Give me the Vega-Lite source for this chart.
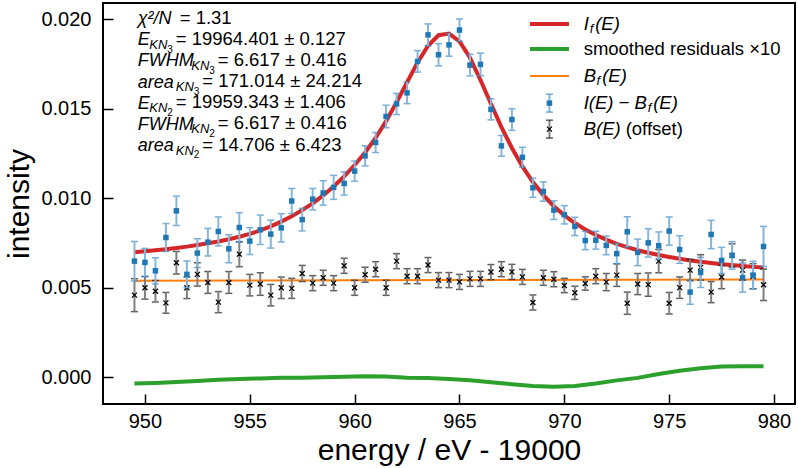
{
"$schema":"https://vega.github.io/schema/vega-lite/v6.json",
"width":692,"height":401,
"autosize":{"type":"none"},
"padding":{"left":103,"top":3,"right":3,"bottom":64},
"background":"white",
"config":{
 "font":"Liberation Sans",
 "view":{"stroke":"#000","strokeWidth":2},
 "axis":{"domain":false,"grid":false,"tickColor":"#000","tickWidth":1.5,"tickSize":-10,"labelFontSize":20,"labelColor":"#000","labelFont":"Liberation Sans","titleFont":"Liberation Sans","titleFontSize":30,"titleFontWeight":"normal","titleColor":"#000"},
 "axisX":{"labelPadding":17,"titlePadding":4},
 "axisY":{"labelPadding":22,"titlePadding":6},
 "text":{"align":"left","color":"#000"}
},
"datasets":{
"pts":[
{"E":949.5,"I":0.00648,"Ie":0.0011,"B":0.00458,"Be":0.00092,"fit":0.00698},
{"E":950.0,"I":0.00641,"Ie":0.00078,"B":0.00499,"Be":0.00063,"fit":0.00703},
{"E":950.5,"I":0.00594,"Ie":0.00073,"B":0.0048,"Be":0.0006,"fit":0.00709},
{"E":951.0,"I":0.0078,"Ie":0.00078,"B":0.00415,"Be":0.00058,"fit":0.00715},
{"E":951.5,"I":0.00929,"Ie":0.00082,"B":0.00639,"Be":0.00063,"fit":0.00722},
{"E":952.0,"I":0.00574,"Ie":0.00075,"B":0.00499,"Be":0.0006,"fit":0.00729},
{"E":952.5,"I":0.00693,"Ie":0.0008,"B":0.00574,"Be":0.00065,"fit":0.00738},
{"E":953.0,"I":0.00754,"Ie":0.00077,"B":0.00529,"Be":0.00061,"fit":0.00748},
{"E":953.5,"I":0.00814,"Ie":0.00081,"B":0.00419,"Be":0.00059,"fit":0.00758},
{"E":954.0,"I":0.00717,"Ie":0.00078,"B":0.00529,"Be":0.00061,"fit":0.0077},
{"E":954.5,"I":0.00836,"Ie":0.00083,"B":0.00687,"Be":0.0007,"fit":0.00784},
{"E":955.0,"I":0.0076,"Ie":0.00075,"B":0.00514,"Be":0.0006,"fit":0.008},
{"E":955.5,"I":0.00823,"Ie":0.00082,"B":0.0052,"Be":0.00063,"fit":0.0082},
{"E":956.0,"I":0.00799,"Ie":0.00078,"B":0.00458,"Be":0.0006,"fit":0.00842},
{"E":956.5,"I":0.00834,"Ie":0.00079,"B":0.00499,"Be":0.0006,"fit":0.00869},
{"E":957.0,"I":0.00984,"Ie":0.0007,"B":0.00496,"Be":0.00056,"fit":0.00899},
{"E":957.5,"I":0.0088,"Ie":0.00063,"B":0.00579,"Be":0.00045,"fit":0.00933},
{"E":958.0,"I":0.00994,"Ie":0.0006,"B":0.00525,"Be":0.00042,"fit":0.00971},
{"E":958.5,"I":0.01029,"Ie":0.00068,"B":0.00555,"Be":0.00042,"fit":0.01015},
{"E":959.0,"I":0.0106,"Ie":0.00067,"B":0.00525,"Be":0.00042,"fit":0.01065},
{"E":959.5,"I":0.01082,"Ie":0.00065,"B":0.00622,"Be":0.00042,"fit":0.01121},
{"E":960.0,"I":0.01151,"Ie":0.00056,"B":0.00499,"Be":0.00042,"fit":0.01185},
{"E":960.5,"I":0.01236,"Ie":0.00056,"B":0.00572,"Be":0.00042,"fit":0.01255},
{"E":961.0,"I":0.01311,"Ie":0.00056,"B":0.00603,"Be":0.00042,"fit":0.01336},
{"E":961.5,"I":0.01456,"Ie":0.00063,"B":0.00499,"Be":0.00042,"fit":0.0143},
{"E":962.0,"I":0.01526,"Ie":0.00059,"B":0.00648,"Be":0.00042,"fit":0.01536},
{"E":962.5,"I":0.01588,"Ie":0.0006,"B":0.00564,"Be":0.00042,"fit":0.01647},
{"E":963.0,"I":0.01764,"Ie":0.0006,"B":0.00564,"Be":0.00042,"fit":0.01757},
{"E":963.5,"I":0.01912,"Ie":0.00061,"B":0.00626,"Be":0.00042,"fit":0.01851},
{"E":964.0,"I":0.01801,"Ie":0.00062,"B":0.00542,"Be":0.00042,"fit":0.0191},
{"E":964.5,"I":0.01856,"Ie":0.00063,"B":0.00542,"Be":0.00042,"fit":0.01919},
{"E":965.0,"I":0.01939,"Ie":0.00062,"B":0.00532,"Be":0.00042,"fit":0.01876},
{"E":965.5,"I":0.01743,"Ie":0.0006,"B":0.00549,"Be":0.00042,"fit":0.01784},
{"E":966.0,"I":0.01747,"Ie":0.00063,"B":0.00549,"Be":0.00042,"fit":0.0166},
{"E":966.5,"I":0.01496,"Ie":0.00059,"B":0.00587,"Be":0.00042,"fit":0.01527},
{"E":967.0,"I":0.01292,"Ie":0.00058,"B":0.00603,"Be":0.00042,"fit":0.01397},
{"E":967.5,"I":0.01439,"Ie":0.0006,"B":0.00588,"Be":0.00042,"fit":0.0128},
{"E":968.0,"I":0.01228,"Ie":0.00056,"B":0.0056,"Be":0.00042,"fit":0.01177},
{"E":968.5,"I":0.01058,"Ie":0.00053,"B":0.00417,"Be":0.00042,"fit":0.0109},
{"E":969.0,"I":0.01037,"Ie":0.00054,"B":0.00555,"Be":0.00042,"fit":0.01017},
{"E":969.5,"I":0.00933,"Ie":0.00052,"B":0.00547,"Be":0.00042,"fit":0.00955},
{"E":970.0,"I":0.00907,"Ie":0.00051,"B":0.00512,"Be":0.0004,"fit":0.00904},
{"E":970.5,"I":0.00842,"Ie":0.00051,"B":0.00471,"Be":0.00037,"fit":0.00861},
{"E":971.0,"I":0.00763,"Ie":0.00051,"B":0.00523,"Be":0.00037,"fit":0.00825},
{"E":971.5,"I":0.00765,"Ie":0.0005,"B":0.00564,"Be":0.00042,"fit":0.00794},
{"E":972.0,"I":0.00736,"Ie":0.00052,"B":0.00531,"Be":0.00048,"fit":0.00768},
{"E":972.5,"I":0.0069,"Ie":0.00056,"B":0.0057,"Be":0.00063,"fit":0.00745},
{"E":973.0,"I":0.00812,"Ie":0.00084,"B":0.00413,"Be":0.00062,"fit":0.00726},
{"E":973.5,"I":0.00697,"Ie":0.00074,"B":0.0052,"Be":0.00059,"fit":0.00709},
{"E":974.0,"I":0.0075,"Ie":0.00079,"B":0.00517,"Be":0.00065,"fit":0.00695},
{"E":974.5,"I":0.00734,"Ie":0.00077,"B":0.00648,"Be":0.00065,"fit":0.00682},
{"E":975.0,"I":0.00816,"Ie":0.00079,"B":0.00413,"Be":0.0006,"fit":0.00671},
{"E":975.5,"I":0.00713,"Ie":0.00077,"B":0.005,"Be":0.0006,"fit":0.00661},
{"E":976.0,"I":0.00475,"Ie":0.00068,"B":0.00598,"Be":0.0006,"fit":0.00652},
{"E":976.5,"I":0.00585,"Ie":0.00084,"B":0.00613,"Be":0.00071,"fit":0.00645},
{"E":977.0,"I":0.00797,"Ie":0.00079,"B":0.00475,"Be":0.00059,"fit":0.00638},
{"E":977.5,"I":0.00652,"Ie":0.00073,"B":0.00559,"Be":0.00065,"fit":0.00631},
{"E":978.0,"I":0.0068,"Ie":0.00077,"B":0.0068,"Be":0.00065,"fit":0.00626},
{"E":978.5,"I":0.00556,"Ie":0.00081,"B":0.00598,"Be":0.00056,"fit":0.00621},
{"E":979.0,"I":0.0057,"Ie":0.00077,"B":0.00564,"Be":0.0007,"fit":0.00616},
{"E":979.5,"I":0.0073,"Ie":0.00112,"B":0.00516,"Be":0.00088,"fit":0.00612}
],
"res":[
{"E":949.5,"r":-0.00035},{"E":950.5,"r":-0.00032},{"E":951.5,"r":-0.00027},{"E":952.5,"r":-0.00021},
{"E":953.5,"r":-0.00014},{"E":954.5,"r":-0.0001},{"E":955.5,"r":-0.00007},{"E":956.5,"r":-0.00004},
{"E":957.5,"r":-0.00003},{"E":958.5,"r":0.0},{"E":959.5,"r":0.00002},{"E":960.5,"r":0.00005},
{"E":961.5,"r":0.00003},{"E":962.5,"r":-0.00004},{"E":963.5,"r":-0.00005},{"E":964.5,"r":-0.0001},
{"E":965.5,"r":-0.00018},{"E":966.5,"r":-0.00028},{"E":967.5,"r":-0.0004},{"E":968.5,"r":-0.0005},
{"E":969.5,"r":-0.00053},{"E":970.5,"r":-0.0005},{"E":971.5,"r":-0.00036},{"E":972.5,"r":-0.00018},
{"E":973.5,"r":-0.00004},{"E":974.5,"r":0.00018},{"E":975.5,"r":0.00036},{"E":976.5,"r":0.0005},
{"E":977.5,"r":0.0006},{"E":978.5,"r":0.00061},{"E":979.5,"r":0.00061}
],
"bg":[{"E":949.5,"Bf":0.00538},{"E":964.5,"Bf":0.00542},{"E":979.5,"Bf":0.00546}],
"one":[{}]
},
"layer":[
{"data":{"name":"bg"},"mark":{"type":"line","color":"#ff7f0e","strokeWidth":2},
 "encoding":{
  "x":{"field":"E","type":"quantitative","title":"energy / eV - 19000","scale":{"domain":[948,981],"nice":false,"zero":false},"axis":{"values":[950,955,960,965,970,975,980],"format":"d"}},
  "y":{"field":"Bf","type":"quantitative","title":"intensity","scale":{"domain":[-0.0015,0.0209],"nice":false,"zero":false},"axis":{"values":[0,0.005,0.01,0.015,0.02],"format":".3f"}}}},
{"data":{"name":"res"},"mark":{"type":"line","color":"#2ca02c","strokeWidth":4},
 "encoding":{"x":{"field":"E","type":"quantitative","title":"energy / eV - 19000"},"y":{"field":"r","type":"quantitative","title":"intensity"}}},
{"data":{"name":"pts"},"mark":{"type":"line","color":"#d62728","strokeWidth":4},
 "encoding":{"x":{"field":"E","type":"quantitative","title":"energy / eV - 19000"},"y":{"field":"fit","type":"quantitative","title":"intensity"}}},
{"data":{"name":"pts"},"mark":{"type":"errorbar","ticks":{"color":"#1a1a1a","size":7,"thickness":1.5},"rule":{"color":"#808080","strokeWidth":2}},
 "encoding":{"x":{"field":"E","type":"quantitative","title":"energy / eV - 19000"},"y":{"field":"B","type":"quantitative","title":"intensity"},"yError":{"field":"Be"}}},
{"data":{"name":"pts"},"mark":{"type":"point","shape":"M-1,-1L1,1M-1,1L1,-1","filled":false,"stroke":"#000","strokeWidth":1.3,"size":25,"opacity":1},
 "encoding":{"x":{"field":"E","type":"quantitative","title":"energy / eV - 19000"},"y":{"field":"B","type":"quantitative","title":"intensity"}}},
{"data":{"name":"pts"},"mark":{"type":"errorbar","ticks":{"color":"#3d8ac6","size":7,"thickness":1.5},"rule":{"color":"#86b6da","strokeWidth":2}},
 "encoding":{"x":{"field":"E","type":"quantitative","title":"energy / eV - 19000"},"y":{"field":"I","type":"quantitative","title":"intensity"},"yError":{"field":"Ie"}}},
{"data":{"name":"pts"},"mark":{"type":"square","color":"#1f77b4","size":30,"opacity":1},
 "encoding":{"x":{"field":"E","type":"quantitative","title":"energy / eV - 19000"},"y":{"field":"I","type":"quantitative","title":"intensity"}}},

{"data":{"name":"one"},"mark":{"type":"text","baseline":"alphabetic","fontStyle":"italic","fontSize":18,"lineHeight":21.2},
 "encoding":{"x":{"datum":949.655},"y":{"datum":0.019721},"text":{"value":["χ²/N","E","FWHM","area","E","FWHM","area"]}}},
{"data":{"name":"one"},"mark":{"type":"text","baseline":"alphabetic","fontSize":18.5,"dx":42},
 "encoding":{"x":{"datum":949.655},"y":{"datum":0.019721},"text":{"value":"= 1.31"}}},

{"data":{"name":"one"},"mark":{"type":"text","baseline":"alphabetic","fontStyle":"italic","fontSize":13,"dx":11.5,"dy":4},
 "encoding":{"x":{"datum":949.655},"y":{"datum":0.018547},"text":{"value":"KN"}}},
{"data":{"name":"one"},"mark":{"type":"text","baseline":"alphabetic","fontSize":10,"dx":29.5,"dy":7.5},
 "encoding":{"x":{"datum":949.655},"y":{"datum":0.018547},"text":{"value":"3"}}},
{"data":{"name":"one"},"mark":{"type":"text","baseline":"alphabetic","fontSize":18.5,"dx":38},
 "encoding":{"x":{"datum":949.655},"y":{"datum":0.018547},"text":{"value":"= 19964.401 ± 0.127"}}},

{"data":{"name":"one"},"mark":{"type":"text","baseline":"alphabetic","fontStyle":"italic","fontSize":13,"dx":53.5,"dy":4},
 "encoding":{"x":{"datum":949.655},"y":{"datum":0.017374},"text":{"value":"KN"}}},
{"data":{"name":"one"},"mark":{"type":"text","baseline":"alphabetic","fontSize":10,"dx":71.5,"dy":7.5},
 "encoding":{"x":{"datum":949.655},"y":{"datum":0.017374},"text":{"value":"3"}}},
{"data":{"name":"one"},"mark":{"type":"text","baseline":"alphabetic","fontSize":18.5,"dx":80},
 "encoding":{"x":{"datum":949.655},"y":{"datum":0.017374},"text":{"value":"= 6.617 ± 0.416"}}},

{"data":{"name":"one"},"mark":{"type":"text","baseline":"alphabetic","fontStyle":"italic","fontSize":13,"dx":38,"dy":4},
 "encoding":{"x":{"datum":949.655},"y":{"datum":0.016201},"text":{"value":"KN"}}},
{"data":{"name":"one"},"mark":{"type":"text","baseline":"alphabetic","fontSize":10,"dx":56,"dy":7.5},
 "encoding":{"x":{"datum":949.655},"y":{"datum":0.016201},"text":{"value":"3"}}},
{"data":{"name":"one"},"mark":{"type":"text","baseline":"alphabetic","fontSize":18.5,"dx":64.5},
 "encoding":{"x":{"datum":949.655},"y":{"datum":0.016201},"text":{"value":"= 171.014 ± 24.214"}}},

{"data":{"name":"one"},"mark":{"type":"text","baseline":"alphabetic","fontStyle":"italic","fontSize":13,"dx":11.5,"dy":4},
 "encoding":{"x":{"datum":949.655},"y":{"datum":0.015028},"text":{"value":"KN"}}},
{"data":{"name":"one"},"mark":{"type":"text","baseline":"alphabetic","fontSize":10,"dx":29.5,"dy":7.5},
 "encoding":{"x":{"datum":949.655},"y":{"datum":0.015028},"text":{"value":"2"}}},
{"data":{"name":"one"},"mark":{"type":"text","baseline":"alphabetic","fontSize":18.5,"dx":38},
 "encoding":{"x":{"datum":949.655},"y":{"datum":0.015028},"text":{"value":"= 19959.343 ± 1.406"}}},

{"data":{"name":"one"},"mark":{"type":"text","baseline":"alphabetic","fontStyle":"italic","fontSize":13,"dx":53.5,"dy":4},
 "encoding":{"x":{"datum":949.655},"y":{"datum":0.013843},"text":{"value":"KN"}}},
{"data":{"name":"one"},"mark":{"type":"text","baseline":"alphabetic","fontSize":10,"dx":71.5,"dy":7.5},
 "encoding":{"x":{"datum":949.655},"y":{"datum":0.013843},"text":{"value":"2"}}},
{"data":{"name":"one"},"mark":{"type":"text","baseline":"alphabetic","fontSize":18.5,"dx":80},
 "encoding":{"x":{"datum":949.655},"y":{"datum":0.013843},"text":{"value":"= 6.617 ± 0.416"}}},

{"data":{"name":"one"},"mark":{"type":"text","baseline":"alphabetic","fontStyle":"italic","fontSize":13,"dx":38,"dy":4},
 "encoding":{"x":{"datum":949.655},"y":{"datum":0.012659},"text":{"value":"KN"}}},
{"data":{"name":"one"},"mark":{"type":"text","baseline":"alphabetic","fontSize":10,"dx":56,"dy":7.5},
 "encoding":{"x":{"datum":949.655},"y":{"datum":0.012659},"text":{"value":"2"}}},
{"data":{"name":"one"},"mark":{"type":"text","baseline":"alphabetic","fontSize":18.5,"dx":64.5},
 "encoding":{"x":{"datum":949.655},"y":{"datum":0.012659},"text":{"value":"= 14.706 ± 6.423"}}},

{"data":{"name":"one"},"mark":{"type":"rule","color":"#d62728","strokeWidth":4},"encoding":{"x":{"datum":968.36},"x2":{"datum":970.22},"y":{"datum":0.01972}}},
{"data":{"name":"one"},"mark":{"type":"rule","color":"#2ca02c","strokeWidth":4},"encoding":{"x":{"datum":968.36},"x2":{"datum":970.22},"y":{"datum":0.018324}}},
{"data":{"name":"one"},"mark":{"type":"rule","color":"#ff7f0e","strokeWidth":2},"encoding":{"x":{"datum":968.36},"x2":{"datum":970.22},"y":{"datum":0.016816}}},
{"data":{"name":"one"},"mark":{"type":"rule","color":"#86b6da","strokeWidth":2},"encoding":{"x":{"datum":969.29},"y":{"datum":0.014807},"y2":{"datum":0.015807}}},
{"data":{"name":"one"},"mark":{"type":"tick","orient":"horizontal","color":"#3d8ac6","size":7,"thickness":1.5},"encoding":{"x":{"datum":969.29},"y":{"datum":0.014807}}},
{"data":{"name":"one"},"mark":{"type":"tick","orient":"horizontal","color":"#3d8ac6","size":7,"thickness":1.5},"encoding":{"x":{"datum":969.29},"y":{"datum":0.015807}}},
{"data":{"name":"one"},"mark":{"type":"square","color":"#1f77b4","size":30,"opacity":1},"encoding":{"x":{"datum":969.29},"y":{"datum":0.015307}}},
{"data":{"name":"one"},"mark":{"type":"rule","color":"#808080","strokeWidth":2},"encoding":{"x":{"datum":969.29},"y":{"datum":0.013355},"y2":{"datum":0.014355}}},
{"data":{"name":"one"},"mark":{"type":"tick","orient":"horizontal","color":"#1a1a1a","size":7,"thickness":1.5},"encoding":{"x":{"datum":969.29},"y":{"datum":0.013355}}},
{"data":{"name":"one"},"mark":{"type":"tick","orient":"horizontal","color":"#1a1a1a","size":7,"thickness":1.5},"encoding":{"x":{"datum":969.29},"y":{"datum":0.014355}}},
{"data":{"name":"one"},"mark":{"type":"point","shape":"M-1,-1L1,1M-1,1L1,-1","filled":false,"stroke":"#000","strokeWidth":1.3,"size":25,"opacity":1},"encoding":{"x":{"datum":969.29},"y":{"datum":0.013855}}},

{"data":{"name":"one"},"mark":{"type":"text","baseline":"middle","fontStyle":"italic","fontSize":18.5},"encoding":{"x":{"datum":970.92},"y":{"datum":0.01972},"text":{"value":"I"}}},
{"data":{"name":"one"},"mark":{"type":"text","baseline":"middle","fontStyle":"italic","fontSize":13,"dx":6,"dy":5},"encoding":{"x":{"datum":970.92},"y":{"datum":0.01972},"text":{"value":"f"}}},
{"data":{"name":"one"},"mark":{"type":"text","baseline":"middle","fontStyle":"italic","fontSize":18.5,"dx":11.5},"encoding":{"x":{"datum":970.92},"y":{"datum":0.01972},"text":{"value":"(E)"}}},
{"data":{"name":"one"},"mark":{"type":"text","baseline":"middle","fontSize":18.5},"encoding":{"x":{"datum":970.92},"y":{"datum":0.018324},"text":{"value":"smoothed residuals ×10"}}},
{"data":{"name":"one"},"mark":{"type":"text","baseline":"middle","fontStyle":"italic","fontSize":18.5},"encoding":{"x":{"datum":970.92},"y":{"datum":0.016816},"text":{"value":"B"}}},
{"data":{"name":"one"},"mark":{"type":"text","baseline":"middle","fontStyle":"italic","fontSize":13,"dx":12.8,"dy":5},"encoding":{"x":{"datum":970.92},"y":{"datum":0.016816},"text":{"value":"f"}}},
{"data":{"name":"one"},"mark":{"type":"text","baseline":"middle","fontStyle":"italic","fontSize":18.5,"dx":18.5},"encoding":{"x":{"datum":970.92},"y":{"datum":0.016816},"text":{"value":"(E)"}}},
{"data":{"name":"one"},"mark":{"type":"text","baseline":"middle","fontStyle":"italic","fontSize":18.5},"encoding":{"x":{"datum":970.92},"y":{"datum":0.015307},"text":{"value":"I(E) − B"}}},
{"data":{"name":"one"},"mark":{"type":"text","baseline":"middle","fontStyle":"italic","fontSize":13,"dx":64,"dy":5},"encoding":{"x":{"datum":970.92},"y":{"datum":0.015307},"text":{"value":"f"}}},
{"data":{"name":"one"},"mark":{"type":"text","baseline":"middle","fontStyle":"italic","fontSize":18.5,"dx":69.5},"encoding":{"x":{"datum":970.92},"y":{"datum":0.015307},"text":{"value":"(E)"}}},
{"data":{"name":"one"},"mark":{"type":"text","baseline":"middle","fontStyle":"italic","fontSize":18.5},"encoding":{"x":{"datum":970.92},"y":{"datum":0.013855},"text":{"value":"B(E)"}}},
{"data":{"name":"one"},"mark":{"type":"text","baseline":"middle","fontSize":18.5,"dx":42},"encoding":{"x":{"datum":970.92},"y":{"datum":0.013855},"text":{"value":"(offset)"}}}
]
}
